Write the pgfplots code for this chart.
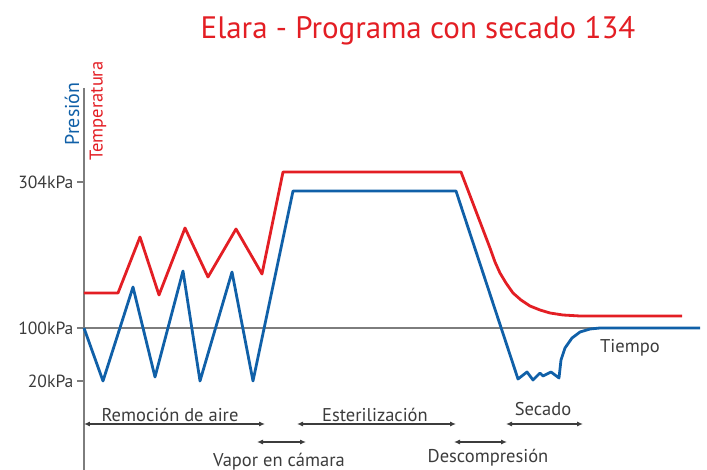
\documentclass[border=0pt]{standalone}
\usepackage{pgfplots}
\pgfplotsset{compat=1.18}
\usepackage{fontspec}
\setmainfont{PT Sans}
\usetikzlibrary{arrows.meta}
\definecolor{cred}{RGB}{227,30,36}
\definecolor{cblue}{RGB}{16,96,168}
\definecolor{cgray}{RGB}{125,125,125}
\definecolor{ctext}{RGB}{60,60,60}
\begin{document}
\begin{tikzpicture}
\begin{axis}[
  scale only axis, width=623pt, height=382pt,
  xmin=84, xmax=707, ymin=88, ymax=470, y dir=reverse,
  axis x line=none, axis y line=left,
  axis line style={cgray, line width=1.3pt, -},
  ytick={182,328,381}, yticklabels={304kPa,100kPa,20kPa},
  tick style={cgray, line width=1.3pt}, tick align=outside, major tick length=7pt,
  yticklabel style={font=\fontsize{17.6}{17.6}\selectfont, text=ctext},
  /pgf/number format/assume math mode=true,
  clip=false,
]
\addplot[cgray, line width=1.3pt] coordinates {(84,328) (700,328)};
\addplot[cred, line width=2.8pt, line join=round] coordinates {
  (84,293) (118,293) (140,237) (159,295) (185,228) (208,277) (236,229) (262,274)
  (283,172) (461,172) (490,248) (495,262) (500,273) (506,283) (513,293) (521,300)
  (530,306) (540,310) (550,313) (563,315) (580,316) (682,316)};
\addplot[cblue, line width=2.8pt, line join=round] coordinates {
  (84,328) (103,381) (133,287) (155,377) (183,271) (200,381) (232,272) (253,381)
  (293,191) (456,191) (518,379) (527,372) (533,380) (540,373) (543,376) (551,372)
  (559,378) (561,360) (565,348) (572,338) (580,332) (590,329) (600,328) (700,328)};

\node[text=cred, font=\fontsize{31}{31}\selectfont, anchor=base] at (axis cs:418,39) {Elara - Programa con secado 134};
\node[text=cblue, rotate=90, font=\fontsize{20}{20}\selectfont] at (axis cs:72,114) {Presión};
\node[text=cred, rotate=90, font=\fontsize{18.5}{18.5}\selectfont] at (axis cs:98,111) {Temperatura};

\begin{scope}[every node/.style={text=ctext, font=\fontsize{18.5}{18.5}\selectfont, anchor=base}]
\node at (axis cs:170,421) {Remoción de aire};
\node at (axis cs:375,421) {Esterilización};
\node at (axis cs:543,415) {Secado};
\node at (axis cs:279,466) {Vapor en cámara};
\node at (axis cs:488,462) {Descompresión};
\node at (axis cs:630,353) {Tiempo};
\end{scope}
\begin{scope}[ctext, line width=1.1pt, {Latex[length=6pt,width=5pt]}-{Latex[length=6pt,width=5pt]}]
\draw (axis cs:84,424) -- (axis cs:265,424);
\draw (axis cs:297,424) -- (axis cs:456,424);
\draw (axis cs:506,424) -- (axis cs:583,424);
\draw (axis cs:257,442) -- (axis cs:306,442);
\draw (axis cs:454,442) -- (axis cs:507,442);
\end{scope}
\coordinate (bl) at (axis cs:0,470);
\coordinate (tr) at (axis cs:707,0);
\end{axis}
\pgfresetboundingbox
\path (bl) rectangle (tr);
\end{tikzpicture}
\end{document}
